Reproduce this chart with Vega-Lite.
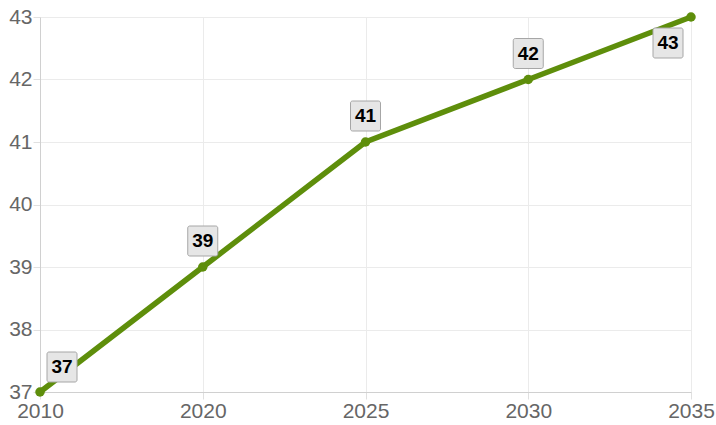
{
  "$schema": "https://vega.github.io/schema/vega-lite/v6.json",
  "autosize": "none",
  "width": 651,
  "height": 375,
  "padding": {"left": 40, "top": 17, "right": 25, "bottom": 33},
  "background": "white",
  "config": {
    "font": "Liberation Sans",
    "view": {"stroke": null},
    "axis": {
      "labelFont": "Liberation Sans",
      "labelFontSize": 21,
      "labelColor": "#666666",
      "gridColor": "#ebebeb",
      "tickColor": "#e0e0e0",
      "tickSize": 7,
      "domainColor": "#d0d0d0",
      "title": null
    }
  },
  "data": {
    "values": [
      {"year": "2010", "value": 37},
      {"year": "2020", "value": 39},
      {"year": "2025", "value": 41},
      {"year": "2030", "value": 42},
      {"year": "2035", "value": 43}
    ]
  },
  "encoding": {
    "x": {
      "field": "year", "type": "ordinal", "sort": null,
      "scale": {"type": "point", "padding": 0},
      "axis": {"labelAngle": 0, "labelPadding": 1, "grid": true}
    },
    "y": {
      "field": "value", "type": "quantitative",
      "scale": {"domain": [37, 43], "nice": false, "zero": false},
      "axis": {"values": [37, 38, 39, 40, 41, 42, 43], "labelPadding": 1, "grid": true}
    }
  },
  "layer": [
    {"mark": {"type": "line", "color": "#5e8e0b", "strokeWidth": 5.5}},
    {"mark": {"type": "point", "filled": true, "color": "#5e8e0b", "size": 90, "opacity": 1}},
    {
      "transform": [{"filter": "datum.year != '2010' && datum.year != '2035'"}],
      "layer": [
        {"mark": {"type": "rect", "width": 30, "height": 30, "yOffset": -26, "cornerRadius": 2, "fill": "#e6e6e6", "stroke": "#a6a6a6", "strokeWidth": 1}},
        {"mark": {"type": "text", "dy": -26, "fontSize": 19, "fontWeight": "bold", "color": "#000000", "baseline": "middle"}, "encoding": {"text": {"field": "value"}}}
      ]
    },
    {
      "transform": [{"filter": "datum.year == '2010'"}],
      "layer": [
        {"mark": {"type": "rect", "width": 30, "height": 30, "xOffset": 22, "yOffset": -25, "cornerRadius": 2, "fill": "#e6e6e6", "stroke": "#a6a6a6", "strokeWidth": 1}},
        {"mark": {"type": "text", "dx": 22, "dy": -25, "fontSize": 19, "fontWeight": "bold", "color": "#000000", "baseline": "middle"}, "encoding": {"text": {"field": "value"}}}
      ]
    },
    {
      "transform": [{"filter": "datum.year == '2035'"}],
      "layer": [
        {"mark": {"type": "rect", "width": 30, "height": 30, "xOffset": -23, "yOffset": 26, "cornerRadius": 2, "fill": "#e6e6e6", "stroke": "#a6a6a6", "strokeWidth": 1}},
        {"mark": {"type": "text", "dx": -23, "dy": 26, "fontSize": 19, "fontWeight": "bold", "color": "#000000", "baseline": "middle"}, "encoding": {"text": {"field": "value"}}}
      ]
    }
  ]
}
